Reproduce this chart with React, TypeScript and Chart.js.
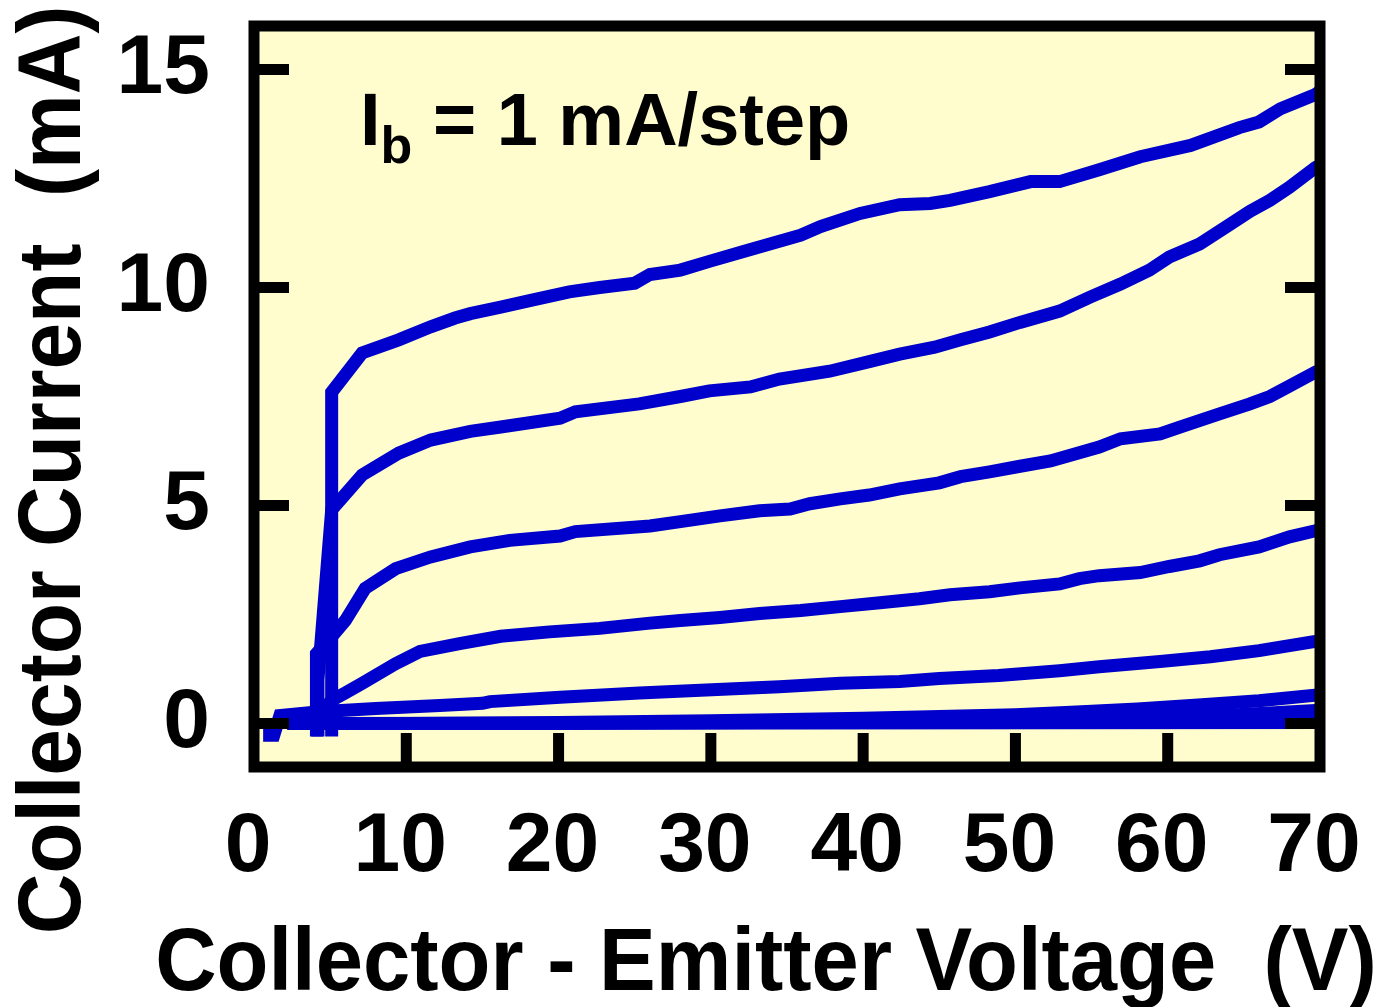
import React, { useEffect, useRef } from 'react';
import { Chart, registerables } from 'chart.js';

Chart.register(...registerables);

const FONT = "'Liberation Sans', Arial, Helvetica, sans-serif";
const BLUE = '#0000CC';
const BG = '#FFFDCD';
const LINE_W = 13;

const X_TICKS = [0, 10, 20, 30, 40, 50, 60, 70];
const Y_TICKS = [0, 5, 10, 15];
const X_TITLE = 'Collector - Emitter Voltage  (V)';
const Y_TITLE = 'Collector Current  (mA)';
const NOTE_MAIN = 'I';
const NOTE_SUB = 'b';
const NOTE_REST = ' = 1 mA/step';

// Curve 7 (top)
const c7V = [5.1, 5.1, 7.1, 9.5, 11.6, 13.2, 14.2, 16.2, 18.1, 20.7, 22.7, 25.0, 26.0, 28.0, 29.9, 32.2, 35.9, 37.2, 39.8, 42.4, 44.4, 45.7, 48.3, 51.0, 52.9, 55.5, 58.2, 61.5, 64.7, 66.0, 67.4, 69.7, 70.0];
const c7I = [-0.3, 7.6, 8.5, 8.8, 9.1, 9.3, 9.4, 9.55, 9.7, 9.9, 10.0, 10.1, 10.3, 10.4, 10.6, 10.83, 11.2, 11.4, 11.7, 11.9, 11.93, 12.0, 12.2, 12.43, 12.43, 12.7, 13.0, 13.26, 13.67, 13.8, 14.1, 14.43, 14.5];
// Curve 6
const c6V = [4.2, 4.2, 5.1, 7.1, 9.5, 11.6, 14.2, 16.2, 20.1, 21.1, 25.3, 28.0, 29.9, 32.6, 34.5, 37.8, 40.4, 42.4, 44.7, 46.4, 48.3, 50.3, 52.9, 54.9, 56.9, 58.8, 60.1, 62.1, 64.1, 65.4, 66.7, 68.0, 69.7, 70.0];
const c6I = [-0.3, 1.0, 4.9, 5.7, 6.2, 6.5, 6.7, 6.8, 7.0, 7.15, 7.33, 7.5, 7.63, 7.72, 7.9, 8.08, 8.3, 8.47, 8.63, 8.8, 8.98, 9.2, 9.46, 9.78, 10.08, 10.4, 10.7, 11.0, 11.45, 11.75, 12.0, 12.3, 12.75, 12.8];
// Curve 5
const c5V = [4.1, 4.1, 5.0, 6.0, 7.3, 9.3, 11.6, 14.2, 16.8, 20.1, 21.1, 26.0, 28.0, 30.6, 33.2, 35.2, 36.5, 38.5, 40.4, 42.4, 45.0, 46.4, 48.3, 50.3, 52.3, 53.9, 55.5, 56.9, 59.5, 60.8, 63.4, 65.4, 66.7, 68.0, 69.7, 70.0];
const c5I = [-0.3, 1.6, 1.95, 2.36, 3.1, 3.55, 3.82, 4.05, 4.2, 4.3, 4.4, 4.53, 4.63, 4.76, 4.88, 4.92, 5.04, 5.15, 5.24, 5.38, 5.52, 5.66, 5.77, 5.9, 6.02, 6.18, 6.34, 6.53, 6.64, 6.8, 7.1, 7.33, 7.5, 7.74, 8.06, 8.1];
// Curve 4
const c4V = [4.1, 5.2, 6.0, 7.1, 9.3, 10.9, 13.5, 16.2, 19.4, 22.7, 26.0, 28.0, 30.6, 33.2, 35.9, 38.5, 41.1, 43.7, 45.7, 48.3, 50.3, 52.9, 54.2, 55.5, 58.2, 60.1, 62.1, 63.4, 66.0, 68.0, 69.7, 70.0];
const c4I = [0.2, 0.55, 0.7, 0.92, 1.37, 1.65, 1.83, 2.0, 2.1, 2.18, 2.3, 2.36, 2.43, 2.52, 2.59, 2.68, 2.77, 2.86, 2.95, 3.02, 3.11, 3.2, 3.32, 3.39, 3.46, 3.6, 3.73, 3.87, 4.05, 4.28, 4.42, 4.45];
// Curve 3
const c3V = [0.6, 1.3, 1.7, 4.3, 8.0, 12.2, 15.0, 15.5, 20.1, 25.3, 31.9, 34.5, 38.5, 42.4, 45.0, 48.9, 52.9, 55.5, 59.5, 62.8, 66.0, 69.7, 70.0];
const c3I = [-0.27, -0.27, 0.18, 0.27, 0.34, 0.41, 0.46, 0.5, 0.6, 0.7, 0.8, 0.84, 0.92, 0.96, 1.03, 1.1, 1.21, 1.3, 1.42, 1.53, 1.67, 1.88, 1.9];
// Curve 2
const c2V = [2.2, 10, 20, 30, 40, 50, 54, 58, 62, 66, 70];
const c2I = [0.0, 0.0, 0.02, 0.06, 0.12, 0.2, 0.26, 0.33, 0.42, 0.52, 0.66];
// Curve 1
const c1V = [2.2, 20, 40, 50, 58, 64, 70];
const c1I = [0.0, 0.0, 0.03, 0.06, 0.12, 0.19, 0.3];
// Curve 0
const c0V = [2.2, 70];
const c0I = [0.0, 0.02];

const CURVES: [number[], number[]][] = [
  [c0V, c0I], [c1V, c1I], [c2V, c2I], [c3V, c3I],
  [c4V, c4I], [c5V, c5I], [c6V, c6I], [c7V, c7I],
];

const framePlugin = {
  id: 'framePlugin',
  beforeDatasetsDraw(chart: any) {
    const { ctx, chartArea: a } = chart;
    ctx.save();
    ctx.fillStyle = BG;
    ctx.fillRect(a.left, a.top, a.right - a.left, a.bottom - a.top);
    ctx.restore();
  },
  afterDatasetsDraw(chart: any) {
    const { ctx, chartArea: a, scales } = chart;
    const xs = scales.x;
    const ys = scales.y;
    ctx.save();
    ctx.strokeStyle = '#000';
    ctx.lineWidth = 11;
    ctx.lineCap = 'butt';
    ctx.beginPath();
    for (const v of Y_TICKS) {
      const py = ys.getPixelForValue(v);
      ctx.moveTo(a.left, py);
      ctx.lineTo(a.left + 35, py);
      ctx.moveTo(a.right, py);
      ctx.lineTo(a.right - 35, py);
    }
    for (const v of X_TICKS) {
      if (v <= xs.min || v >= xs.max) continue;
      const px = xs.getPixelForValue(v);
      ctx.moveTo(px, a.bottom);
      ctx.lineTo(px, a.bottom - 34);
    }
    ctx.stroke();
    ctx.lineJoin = 'miter';
    ctx.strokeRect(a.left, a.top, a.right - a.left, a.bottom - a.top);
    ctx.restore();
  },
  afterDraw(chart: any) {
    const { ctx, chartArea: a } = chart;
    ctx.save();
    ctx.fillStyle = '#000';
    ctx.textBaseline = 'alphabetic';
    // x title
    ctx.save();
    ctx.font = `bold 85px ${FONT}`;
    ctx.textAlign = 'center';
    ctx.translate(766, 990);
    ctx.scale(1, 1.05);
    ctx.fillText(X_TITLE, 0, 0);
    ctx.restore();
    // y title
    ctx.save();
    ctx.font = `bold 84px ${FONT}`;
    ctx.textAlign = 'center';
    ctx.translate(80, 470);
    ctx.rotate(-Math.PI / 2);
    ctx.scale(1, 1.06);
    ctx.fillText(Y_TITLE, 0, 0);
    ctx.restore();
    // annotation
    ctx.textAlign = 'left';
    let x = a.left + 106;
    const base = a.top + 119;
    ctx.font = `bold 74px ${FONT}`;
    ctx.fillText(NOTE_MAIN, x, base);
    x += ctx.measureText(NOTE_MAIN).width;
    ctx.font = `bold 52px ${FONT}`;
    ctx.fillText(NOTE_SUB, x, base + 18);
    x += ctx.measureText(NOTE_SUB).width;
    ctx.font = `bold 74px ${FONT}`;
    ctx.fillText(NOTE_REST, x, base);
    ctx.restore();
  },
};

const zeroPad = (s: any) => {
  s.paddingTop = 0;
  s.paddingBottom = 0;
  s.paddingLeft = 0;
  s.paddingRight = 0;
};

export default function App() {
  const ref = useRef<HTMLCanvasElement>(null);
  useEffect(() => {
    if (!ref.current) return;
    const datasets = CURVES.map(([vs, is], k) => ({
      label: `Ib step ${k}`,
      data: vs.map((v, i) => ({ x: v, y: is[i] })),
      showLine: true,
      borderColor: BLUE,
      backgroundColor: BLUE,
      borderWidth: LINE_W,
      pointRadius: 0,
      tension: 0,
      fill: false,
      borderJoinStyle: 'miter' as const,
      borderCapStyle: 'butt' as const,
    }));
    const chart = new Chart(ref.current, {
      type: 'scatter',
      data: { datasets },
      plugins: [framePlugin],
      options: {
        animation: false,
        responsive: false,
        maintainAspectRatio: false,
        devicePixelRatio: 1,
        elements: {
          line: { borderWidth: LINE_W, borderColor: BLUE, borderJoinStyle: 'miter', borderCapStyle: 'butt', tension: 0 },
          point: { radius: 0, hoverRadius: 0 },
        },
        layout: { padding: { left: 0, top: 26, right: 65, bottom: 0 } },
        plugins: { legend: { display: false }, tooltip: { enabled: false }, title: { display: false } },
        scales: {
          x: {
            type: 'linear',
            position: 'bottom',
            min: 0,
            max: 70,
            afterBuildTicks: (s: any) => { s.ticks = X_TICKS.map((v) => ({ value: v })); },
            afterFit: (s: any) => { s.height = 240; zeroPad(s); },
            grid: { display: false, drawTicks: false },
            border: { display: false },
            ticks: {
              color: '#000',
              font: { family: FONT, size: 84, weight: 'bold' },
              padding: 30,
              labelOffset: -6,
              maxRotation: 0,
              autoSkip: false,
            },
            title: { display: false },
          },
          y: {
            type: 'linear',
            position: 'left',
            min: -1,
            max: 16,
            afterBuildTicks: (s: any) => { s.ticks = Y_TICKS.map((v) => ({ value: v })); },
            afterFit: (s: any) => { s.width = 254; zeroPad(s); },
            grid: { display: false, drawTicks: false },
            border: { display: false },
            ticks: {
              color: '#000',
              font: { family: FONT, size: 84, weight: 'bold' },
              padding: 44,
              autoSkip: false,
            },
            title: { display: false },
          },
        },
      } as any,
    });
    return () => chart.destroy();
  }, []);
  return (
    <div style={{ position: 'absolute', left: 0, top: 0, width: 1385, height: 1007, background: '#fff' }}>
      <canvas ref={ref} width={1385} height={1007} />
    </div>
  );
}
